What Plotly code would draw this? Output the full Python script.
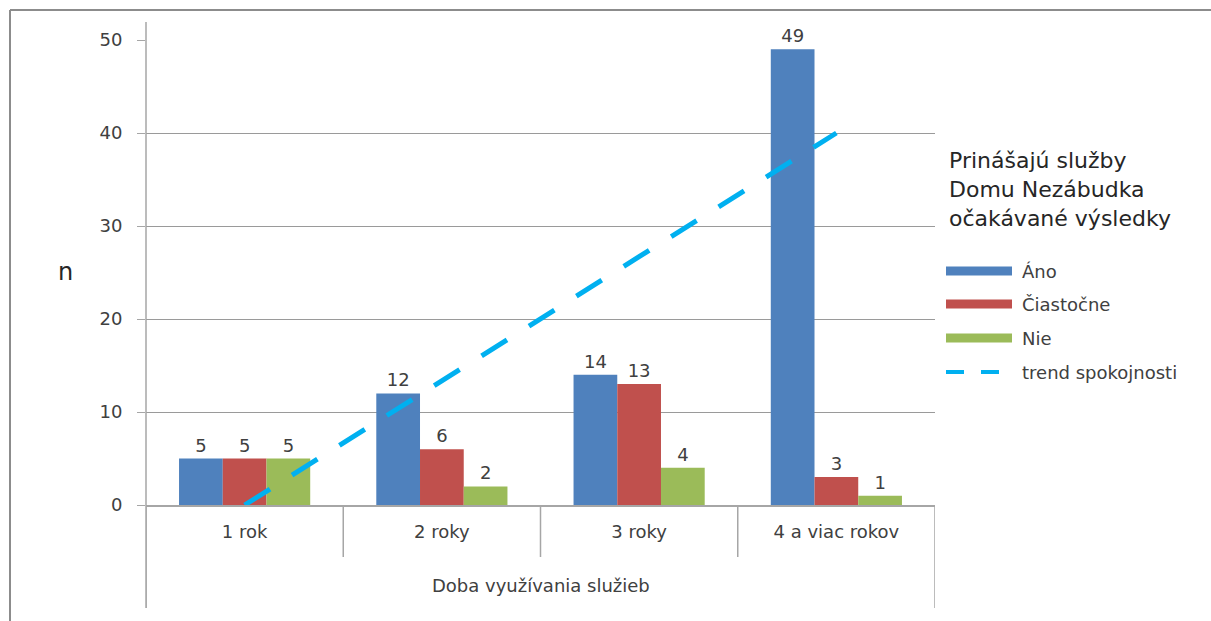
import plotly.graph_objects as go

categories = ["1 rok", "2 roky", "3 roky", "4 a viac rokov"]
ano = [5, 12, 14, 49]
ciastocne = [5, 6, 13, 3]
nie = [5, 2, 4, 1]
trend = [0, 13.4, 26.7, 40]
y_ticks = [0, 10, 20, 30, 40, 50]

series_names = ["Áno", "Čiastočne", "Nie"]
colors = ["#4F81BD", "#C0504D", "#9BBB59"]
trend_color = "#00B0F0"
FONT = "DejaVu Sans"
TXT = "#404040"
FS = 18

W, H = 1211, 621
L, R, T, B = 146, 276, 40, 116
pw = W - L - R
ph = H - T - B

def px(x):
    return (x - L) / pw

def py(y):
    return (H - B - y) / ph

fig = go.Figure()
for name, vals, c in zip(series_names, [ano, ciastocne, nie], colors):
    fig.add_trace(go.Bar(
        x=categories, y=vals, name=name, marker=dict(color=c, line=dict(width=0)),
        text=[str(v) for v in vals], textposition="outside",
        textfont=dict(family=FONT, size=FS, color=TXT), cliponaxis=False,
        showlegend=False,
    ))
fig.add_trace(go.Scatter(
    x=categories, y=trend, mode="lines", name="trend spokojnosti",
    line=dict(color=trend_color, width=5, dash="30px,26px"), showlegend=False,
))

shapes = []
grey = "#8C8C8C"
# outer border (top and left)
shapes.append(dict(type="line", xref="paper", yref="paper", x0=px(10), x1=px(W), y0=py(10), y1=py(10),
                   line=dict(color=grey, width=2)))
shapes.append(dict(type="line", xref="paper", yref="paper", x0=px(10), x1=px(10), y0=py(10), y1=py(H),
                   line=dict(color=grey, width=2)))
# y axis line extended
shapes.append(dict(type="line", xref="paper", yref="paper", x0=0, x1=0, y0=py(22), y1=py(608),
                   line=dict(color="#A6A6A6", width=1.5)))
# category dividers
for i in range(len(categories) + 1):
    xv = i - 0.5
    bottom = py(608) if i in (0, len(categories)) else py(557)
    shapes.append(dict(type="line", xref="x", yref="paper", x0=xv, x1=xv, y0=0, y1=bottom,
                       line=dict(color="#A6A6A6", width=1.5)))

# custom legend
leg_y = [271, 304, 338]
for name, c, yy in zip(series_names, colors, leg_y):
    shapes.append(dict(type="rect", xref="paper", yref="paper", x0=px(946), x1=px(1012),
                       y0=py(yy + 4.5), y1=py(yy - 4.5), fillcolor=c, line=dict(width=0)))
for a, b in [(946, 964), (981, 999)]:
    shapes.append(dict(type="line", xref="paper", yref="paper", x0=px(a), x1=px(b),
                       y0=py(372), y1=py(372), line=dict(color=trend_color, width=4)))

annotations = []
for name, yy in zip(series_names + ["trend spokojnosti"], leg_y + [372]):
    annotations.append(dict(text=name, xref="paper", yref="paper", x=px(1020), y=py(yy),
                            xanchor="left", yanchor="middle", showarrow=False,
                            font=dict(family=FONT, size=FS, color=TXT)))
for line, yy in zip(["Prinášajú služby", "Domu Nezábudka", "očakávané výsledky"], [160, 189, 218]):
    annotations.append(dict(text=line, xref="paper", yref="paper", x=px(947), y=py(yy),
                            xanchor="left", yanchor="middle", showarrow=False,
                            font=dict(family=FONT, size=22, color="#262626")))
annotations.append(dict(text="n", xref="paper", yref="paper", x=px(65), y=py(272),
                        xanchor="center", yanchor="middle", showarrow=False,
                        font=dict(family=FONT, size=24, color="#262626")))
annotations.append(dict(text="Doba využívania služieb", xref="paper", yref="paper", x=px(541), y=py(585),
                        xanchor="center", yanchor="middle", showarrow=False,
                        font=dict(family=FONT, size=FS, color=TXT)))

fig.update_layout(
    width=W, height=H, margin=dict(l=L, r=R, t=T, b=B, autoexpand=False),
    paper_bgcolor="white", plot_bgcolor="white",
    barmode="group", bargap=0.335, bargroupgap=0,
    font=dict(family=FONT, size=FS, color=TXT),
    shapes=shapes, annotations=annotations, showlegend=False,
    xaxis=dict(type="category", showgrid=False, showline=True, linecolor="#A6A6A6", linewidth=1.5,
               ticks="", tickfont=dict(family=FONT, size=FS, color=TXT), ticklabelstandoff=10,
               range=[-0.5, 3.5]),
    yaxis=dict(range=[0, 50], tickvals=y_ticks, showgrid=True, gridcolor="#9A9A9A", gridwidth=1,
               zeroline=False, showline=False, ticks="outside", ticklen=8, tickcolor="#A6A6A6",
               tickfont=dict(family=FONT, size=FS, color=TXT), ticklabelstandoff=11),
)
fig.write_html("out.html")
